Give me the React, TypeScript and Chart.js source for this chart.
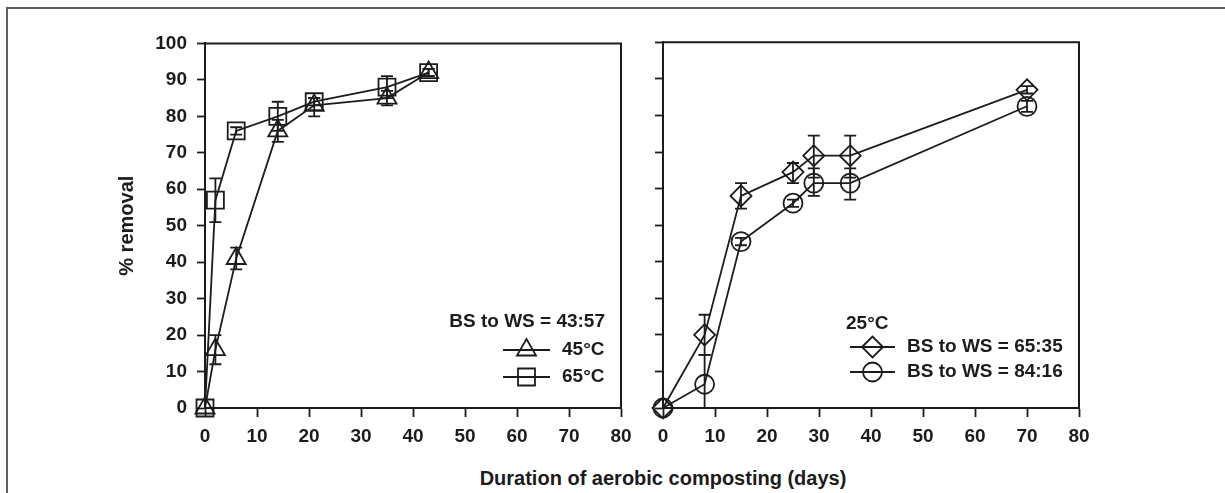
import React, { useEffect, useRef } from 'react';
import { Chart, registerables } from 'chart.js';
import { drawPoint } from 'chart.js/helpers';

Chart.register(...registerables);

// ---------- data ----------
const xTickValues = [0, 10, 20, 30, 40, 50, 60, 70, 80];
const yTickValues = [0, 10, 20, 30, 40, 50, 60, 70, 80, 90, 100];

// Left panel: BS to WS = 43:57
const daysLeft = [0, 2, 6, 14, 21, 35, 43];
const removal45C = [0, 16, 41, 76, 83, 85, 92];
const err45CLow = [0, 12, 38, 73, 80, 83, 91];
const err45CHigh = [0, 20, 44, 79, 85, 87, 93];
const removal65C = [0, 57, 76, 80, 84, 88, 92];
const err65CLow = [0, 51, 75, 76, 83, 85, 91];
const err65CHigh = [0, 63, 77, 84, 85, 91, 93];

// Right panel: 25 °C
const daysRight = [0, 8, 15, 25, 29, 36, 70];
const removal6535 = [0, 20, 58, 64.5, 69, 69, 87];
const err6535Low = [0, 14.5, 54.5, 61.5, 63, 63, 86];
const err6535High = [0, 25.5, 61.5, 67, 74.5, 74.5, 88];
const removal8416 = [0, 6.5, 45.5, 56, 61.5, 61.5, 82.5];
const err8416Low = [0, 0, 44.5, 55, 58, 57, 81];
const err8416High = [0, 14.5, 46.5, 57, 65.5, 65.5, 84];

const leftLegendTitle = 'BS to WS = 43:57';
const leftLegendLabels = ['45°C', '65°C'];
const rightLegendTitle = '25°C';
const rightLegendLabels = ['BS to WS = 65:35', 'BS to WS = 84:16'];

const xTitle = 'Duration of aerobic composting (days)';
const yTitle = '% removal';

// ---------- styles ----------
const INK = '#1c1c1c';
const FONT = "'Liberation Sans', Arial, Helvetica, sans-serif";

const toPoints = (xs: number[], ys: number[]) => xs.map((x, i) => ({ x, y: ys[i] }));

function makeDataset(label: string, xs: number[], ys: number[], lo: number[], hi: number[], style: string, radius: number) {
  return {
    label,
    data: toPoints(xs, ys),
    errLow: lo,
    errHigh: hi,
    borderColor: INK,
    borderWidth: 1.8,
    pointStyle: style,
    pointRadius: radius,
    pointHoverRadius: radius,
    pointBackgroundColor: 'rgba(0,0,0,0)',
    pointBorderColor: INK,
    pointBorderWidth: 1.8,
    tension: 0,
    clip: false,
    fill: false,
  } as any;
}

const errorBarPlugin = {
  id: 'errorBars',
  afterDatasetsDraw(chart: any) {
    const { ctx } = chart;
    const xs = chart.scales.x;
    const ys = chart.scales.y;
    ctx.save();
    ctx.strokeStyle = INK;
    ctx.lineWidth = 1.8;
    chart.data.datasets.forEach((ds: any) => {
      ds.data.forEach((p: any, i: number) => {
        const lo = ds.errLow[i];
        const hi = ds.errHigh[i];
        if (lo === hi) return;
        const px = xs.getPixelForValue(p.x);
        const yl = ys.getPixelForValue(lo);
        const yh = ys.getPixelForValue(hi);
        const cap = 6;
        ctx.beginPath();
        ctx.moveTo(px, yl);
        ctx.lineTo(px, yh);
        ctx.moveTo(px - cap, yh);
        ctx.lineTo(px + cap, yh);
        if (lo > 0) {
          ctx.moveTo(px - cap, yl);
          ctx.lineTo(px + cap, yl);
        }
        ctx.stroke();
      });
    });
    ctx.restore();
  },
};

const boxPlugin = {
  id: 'boxFrame',
  afterDraw(chart: any) {
    const { ctx, chartArea: a } = chart;
    ctx.save();
    ctx.strokeStyle = INK;
    ctx.lineWidth = 2;
    ctx.beginPath();
    ctx.moveTo(a.left, a.top);
    ctx.lineTo(a.right, a.top);
    ctx.lineTo(a.right, a.bottom);
    ctx.stroke();
    ctx.restore();
  },
};

type LegendSpec = {
  title: string;
  titleAlign: 'left' | 'right';
  titleDx: number;
  titleDy: number;
  lineX0: number;
  lineX1: number;
  textX: number;
  rowsDy: number[];
  labels: string[];
  styles: string[];
  radii: number[];
  anchor: 'left' | 'right';
};

function legendPlugin(spec: LegendSpec) {
  return {
    id: 'insideLegend',
    afterDraw(chart: any) {
      const { ctx, chartArea: a } = chart;
      const base = spec.anchor === 'left' ? a.left : a.right;
      ctx.save();
      ctx.fillStyle = INK;
      ctx.strokeStyle = INK;
      ctx.font = `bold 19px ${FONT}`;
      ctx.textBaseline = 'middle';
      ctx.textAlign = spec.titleAlign;
      ctx.fillText(spec.title, base + spec.titleDx, a.bottom - spec.titleDy);
      ctx.textAlign = 'left';
      spec.labels.forEach((lab, i) => {
        const y = a.bottom - spec.rowsDy[i];
        ctx.lineWidth = 1.8;
        ctx.strokeStyle = INK;
        ctx.beginPath();
        ctx.moveTo(base + spec.lineX0, y);
        ctx.lineTo(base + spec.lineX1, y);
        ctx.stroke();
        ctx.fillStyle = 'rgba(0,0,0,0)';
        drawPoint(
          ctx,
          { pointStyle: spec.styles[i] as any, radius: spec.radii[i], borderWidth: 1.8, rotation: 0 } as any,
          (base + spec.lineX0 + base + spec.lineX1) / 2,
          y
        );
        ctx.fillStyle = INK;
        ctx.fillText(lab, base + spec.textX, y);
      });
      ctx.restore();
    },
  };
}

function buildOptions(yWidth: number, xHeight: number, showYLabels: boolean, padRight: number, padTop: number) {
  return {
    responsive: false,
    animation: false,
    events: [],
    layout: { padding: { left: 0, top: padTop, right: padRight, bottom: 0 } },
    plugins: { legend: { display: false }, tooltip: { enabled: false }, title: { display: false } },
    scales: {
      x: {
        type: 'linear',
        min: 0,
        max: 80,
        afterBuildTicks: (s: any) => { s.ticks = xTickValues.map((v) => ({ value: v })); },
        afterFit: (s: any) => { s.height = xHeight; },
        grid: { drawOnChartArea: false, drawTicks: true, tickLength: 9, tickWidth: 1.8, tickColor: INK },
        border: { display: true, color: INK, width: 2 },
        ticks: { color: INK, padding: 8, maxRotation: 0, font: { family: FONT, size: 19, weight: 'bold' } },
      },
      y: {
        type: 'linear',
        min: 0,
        max: 100,
        afterBuildTicks: (s: any) => { s.ticks = yTickValues.map((v) => ({ value: v })); },
        afterFit: (s: any) => { s.width = yWidth; },
        grid: { drawOnChartArea: false, drawTicks: true, tickLength: 8, tickWidth: 1.8, tickColor: INK },
        border: { display: true, color: INK, width: 2 },
        ticks: { display: showYLabels, color: INK, padding: 10, font: { family: FONT, size: 19, weight: 'bold' } },
        title: {
          display: showYLabels,
          text: yTitle,
          color: INK,
          padding: { top: 15, bottom: 0 },
          font: { family: FONT, size: 20, weight: 'bold' },
        },
      },
    },
  } as any;
}

function Panel(props: { left: number; top: number; width: number; height: number; datasets: any[]; options: any; legend: any }) {
  const ref = useRef<HTMLCanvasElement | null>(null);
  useEffect(() => {
    if (!ref.current) return;
    const chart = new Chart(ref.current, {
      type: 'line',
      data: { datasets: props.datasets },
      options: props.options,
      plugins: [errorBarPlugin, boxPlugin, props.legend],
    });
    return () => chart.destroy();
  }, []);
  return (
    <canvas
      ref={ref}
      width={props.width}
      height={props.height}
      style={{ position: 'absolute', left: props.left, top: props.top, width: props.width, height: props.height }}
    />
  );
}

export default function App() {
  const leftDatasets = [
    makeDataset('45°C', daysLeft, removal45C, err45CLow, err45CHigh, 'triangle', 11),
    makeDataset('65°C', daysLeft, removal65C, err65CLow, err65CHigh, 'rect', 12),
  ];
  const rightDatasets = [
    makeDataset('BS to WS = 65:35', daysRight, removal6535, err6535Low, err6535High, 'rectRot', 10.5),
    makeDataset('BS to WS = 84:16', daysRight, removal8416, err8416Low, err8416High, 'circle', 9.5),
  ];
  const leftLegend = legendPlugin({
    title: leftLegendTitle,
    titleAlign: 'right',
    titleDx: -16,
    titleDy: 86,
    lineX0: -118,
    lineX1: -71,
    textX: -59,
    rowsDy: [58, 31],
    labels: leftLegendLabels,
    styles: ['triangle', 'rect'],
    radii: [11, 12],
    anchor: 'right',
  });
  const rightLegend = legendPlugin({
    title: rightLegendTitle,
    titleAlign: 'left',
    titleDx: 183,
    titleDy: 84,
    lineX0: 187,
    lineX1: 232,
    textX: 244,
    rowsDy: [61, 36],
    labels: rightLegendLabels,
    styles: ['rectRot', 'circle'],
    radii: [10.5, 9.5],
    anchor: 'left',
  });

  return (
    <div style={{ position: 'absolute', left: 0, top: 0, width: 1225, height: 493, background: '#fff', overflow: 'hidden' }}>
      <div
        style={{
          position: 'absolute',
          left: 6,
          top: 7,
          width: 1230,
          height: 500,
          borderTop: '2px solid #5e5e5e',
          borderLeft: '2px solid #5e5e5e',
        }}
      />
      <Panel left={100} top={22} width={540} height={428} datasets={leftDatasets} options={buildOptions(105, 42, true, 19, 0)} legend={leftLegend} />
      <Panel left={640} top={30} width={480} height={420} datasets={rightDatasets} options={buildOptions(23, 42, false, 41, 12)} legend={rightLegend} />
      <div
        style={{
          position: 'absolute',
          left: 463,
          width: 400,
          top: 466,
          textAlign: 'center',
          fontFamily: FONT,
          fontWeight: 'bold',
          fontSize: 20,
          lineHeight: '24px',
          color: INK,
          whiteSpace: 'nowrap',
        }}
      >
        {xTitle}
      </div>
    </div>
  );
}
